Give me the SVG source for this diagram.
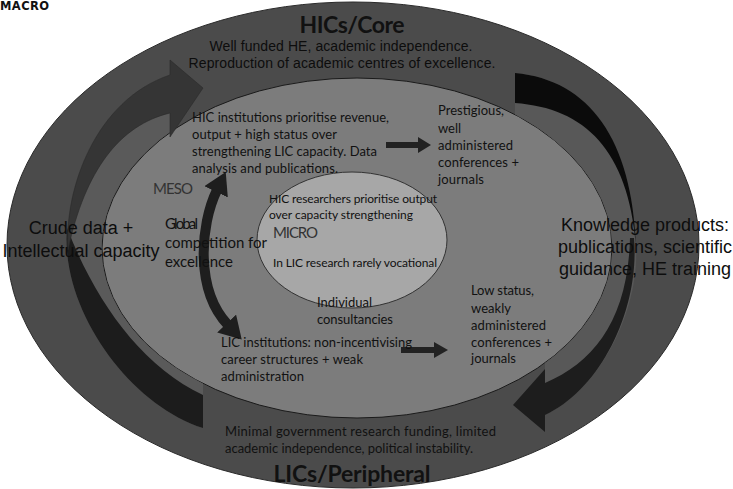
<svg xmlns="http://www.w3.org/2000/svg" width="733" height="489" viewBox="0 0 733 489">
<defs>
<style>
.cal{font-family:Lato,"Open Sans",sans-serif;fill:#111}
.ari{font-family:"Liberation Sans",Arial,sans-serif;fill:#0d0d0d}
.m13{font-size:13px}
.m12{font-size:12px}
.m15{font-size:15px}
.lvl{font-size:15px;fill:#333}
.big{font-size:18px}
.ttl{font-size:23px;font-weight:bold;text-anchor:middle}
.mid{text-anchor:middle}
.arr{fill:#222}
</style>
<marker id="ah" markerUnits="userSpaceOnUse" markerWidth="22" markerHeight="26" refX="2" refY="13" orient="auto-start-reverse" viewBox="0 0 22 26">
<path d="M0,0 L22,13 L0,26 Z" fill="#1e1e1e"/>
</marker>
</defs>
<rect width="733" height="489" fill="#fff"/>

<g id="macro">
<ellipse cx="353" cy="245" rx="346" ry="243" fill="#4b4b4b" stroke="#2a2a2a" stroke-width="1"/>
</g>
<g id="meso">
<ellipse cx="357" cy="248" rx="255" ry="170" fill="#7c7c7c" stroke="#1a1a1a" stroke-width="1"/>
</g>
<g id="micro">
<ellipse cx="352" cy="240" rx="95" ry="68" fill="#a7a7a7" stroke="#333" stroke-width="1"/>
</g>

<g id="connectors">
<!-- left big curved arrow (up) -->
<path d="M203,428 C130,405 60,310 67,228 L68,250 C64,190 95,100 170,75 L170,132 A255,170 0 0 0 203,383.5 Z" fill="#5a5a5a"/>
<path d="M67,228 C60,310 130,405 203,428 L203,395 C140,365 95,300 67,228 Z" fill="#1c1c1c"/>
<path d="M68,250 C64,190 95,100 170,75 L170,60 L203,88 L170,137 L170,113 C120,125 85,170 68,250 Z" fill="#353535" stroke="#2a2a2a" stroke-width="0.6"/>
<!-- right big curved arrow (down) -->
<path d="M515,73 C590,80 632,140 636,245 C640,310 600,390 545,415 L545,363 A255,170 0 0 0 515,114.6 Z" fill="#585858"/>
<path d="M515,73 C590,80 632,140 636,245 C628,150 585,108 515,103 Z" fill="#0b0b0b"/>
<path d="M634,238 C640,310 600,390 545,415 L545,432 L513,405 L545,369 L545,383 C595,362 628,318 630,238 Z" fill="#1d1d1d"/>
<!-- global competition double arrow -->
<path d="M217,190 C200,225 195,290 228,325" fill="none" stroke="#1e1e1e" stroke-width="10" marker-start="url(#ah)" marker-end="url(#ah)"/>
<!-- straight arrows -->
<path class="arr" d="M386,142 L418,142 L418,137 L431,145 L418,153 L418,148 L386,148 Z"/>
<path class="arr" d="M401,347 L434,347 L434,342 L448,350 L434,358 L434,353 L401,353 Z"/>
</g>

<g id="macro-labels">
<text x="0" y="10" style="font-family:'DejaVu Sans',sans-serif;font-weight:bold;font-size:11.5px" fill="#111" textLength="49">MACRO</text>
<text x="352" y="33" class="cal ttl" textLength="105">HICs/Core</text>
<text x="341" y="51" class="ari mid" font-size="14" textLength="263">Well funded HE, academic independence.</text>
<text x="342" y="68" class="ari mid" font-size="14" textLength="307">Reproduction of academic centres of excellence.</text>
<text x="81" y="234" class="ari big mid">Crude data +</text>
<text x="81" y="257" class="ari big mid">Intellectual capacity</text>
<text x="645" y="231" class="ari big mid">Knowledge products:</text>
<text x="645" y="253" class="ari big mid">publications, scientific</text>
<text x="645" y="275" class="ari big mid">guidance, HE training</text>
<text x="225" y="436" class="cal m13" textLength="271">Minimal government research funding, limited</text>
<text x="225" y="453" class="cal m13" textLength="248">academic independence, political instability.</text>
<text x="352" y="482" class="cal ttl" textLength="157">LICs/Peripheral</text>
</g>

<g id="meso-labels">
<text x="192" y="122" class="cal m13" textLength="197">HIC institutions prioritise revenue,</text>
<text x="192" y="139" class="cal m13" textLength="145">output + high status over</text>
<text x="192" y="156" class="cal m13" textLength="185">strengthening LIC capacity. Data</text>
<text x="192" y="173" class="cal m13" textLength="146">analysis and publications.</text>
<text x="438" y="115" class="cal m13" textLength="66">Prestigious,</text>
<text x="438" y="133" class="cal m13" textLength="23">well</text>
<text x="438" y="150" class="cal m13" textLength="75">administered</text>
<text x="438" y="167" class="cal m13" textLength="81">conferences +</text>
<text x="438" y="184" class="cal m13" textLength="46">journals</text>
<text x="153" y="194" class="cal lvl" textLength="40">MESO</text>
<text x="165" y="229" class="cal m15" textLength="33">Global</text>
<text x="165" y="248" class="cal m15" textLength="102">competition for</text>
<text x="165" y="267" class="cal m15" textLength="68">excellence</text>
<text x="317" y="307" class="cal m13" textLength="55">Individual</text>
<text x="317" y="324" class="cal m13" textLength="76">consultancies</text>
<text x="221" y="347" class="cal m13" textLength="191">LIC institutions: non-incentivising</text>
<text x="221" y="364" class="cal m13" textLength="142">career structures + weak</text>
<text x="221" y="381" class="cal m13" textLength="83">administration</text>
<text x="471" y="295" class="cal m13" textLength="63">Low status,</text>
<text x="471" y="313" class="cal m13" textLength="40">weakly</text>
<text x="471" y="330" class="cal m13" textLength="75">administered</text>
<text x="471" y="347" class="cal m13" textLength="81">conferences +</text>
<text x="471" y="363" class="cal m13" textLength="45">journals</text>
</g>

<g id="micro-labels">
<text x="269" y="203" class="cal m12" textLength="168">HIC researchers prioritise output</text>
<text x="269" y="219" class="cal m12" textLength="144">over capacity strengthening</text>
<text x="273" y="238" class="cal lvl" textLength="45">MICRO</text>
<text x="273" y="267" class="cal m12" textLength="164">In LIC research rarely vocational</text>
</g>
</svg>
